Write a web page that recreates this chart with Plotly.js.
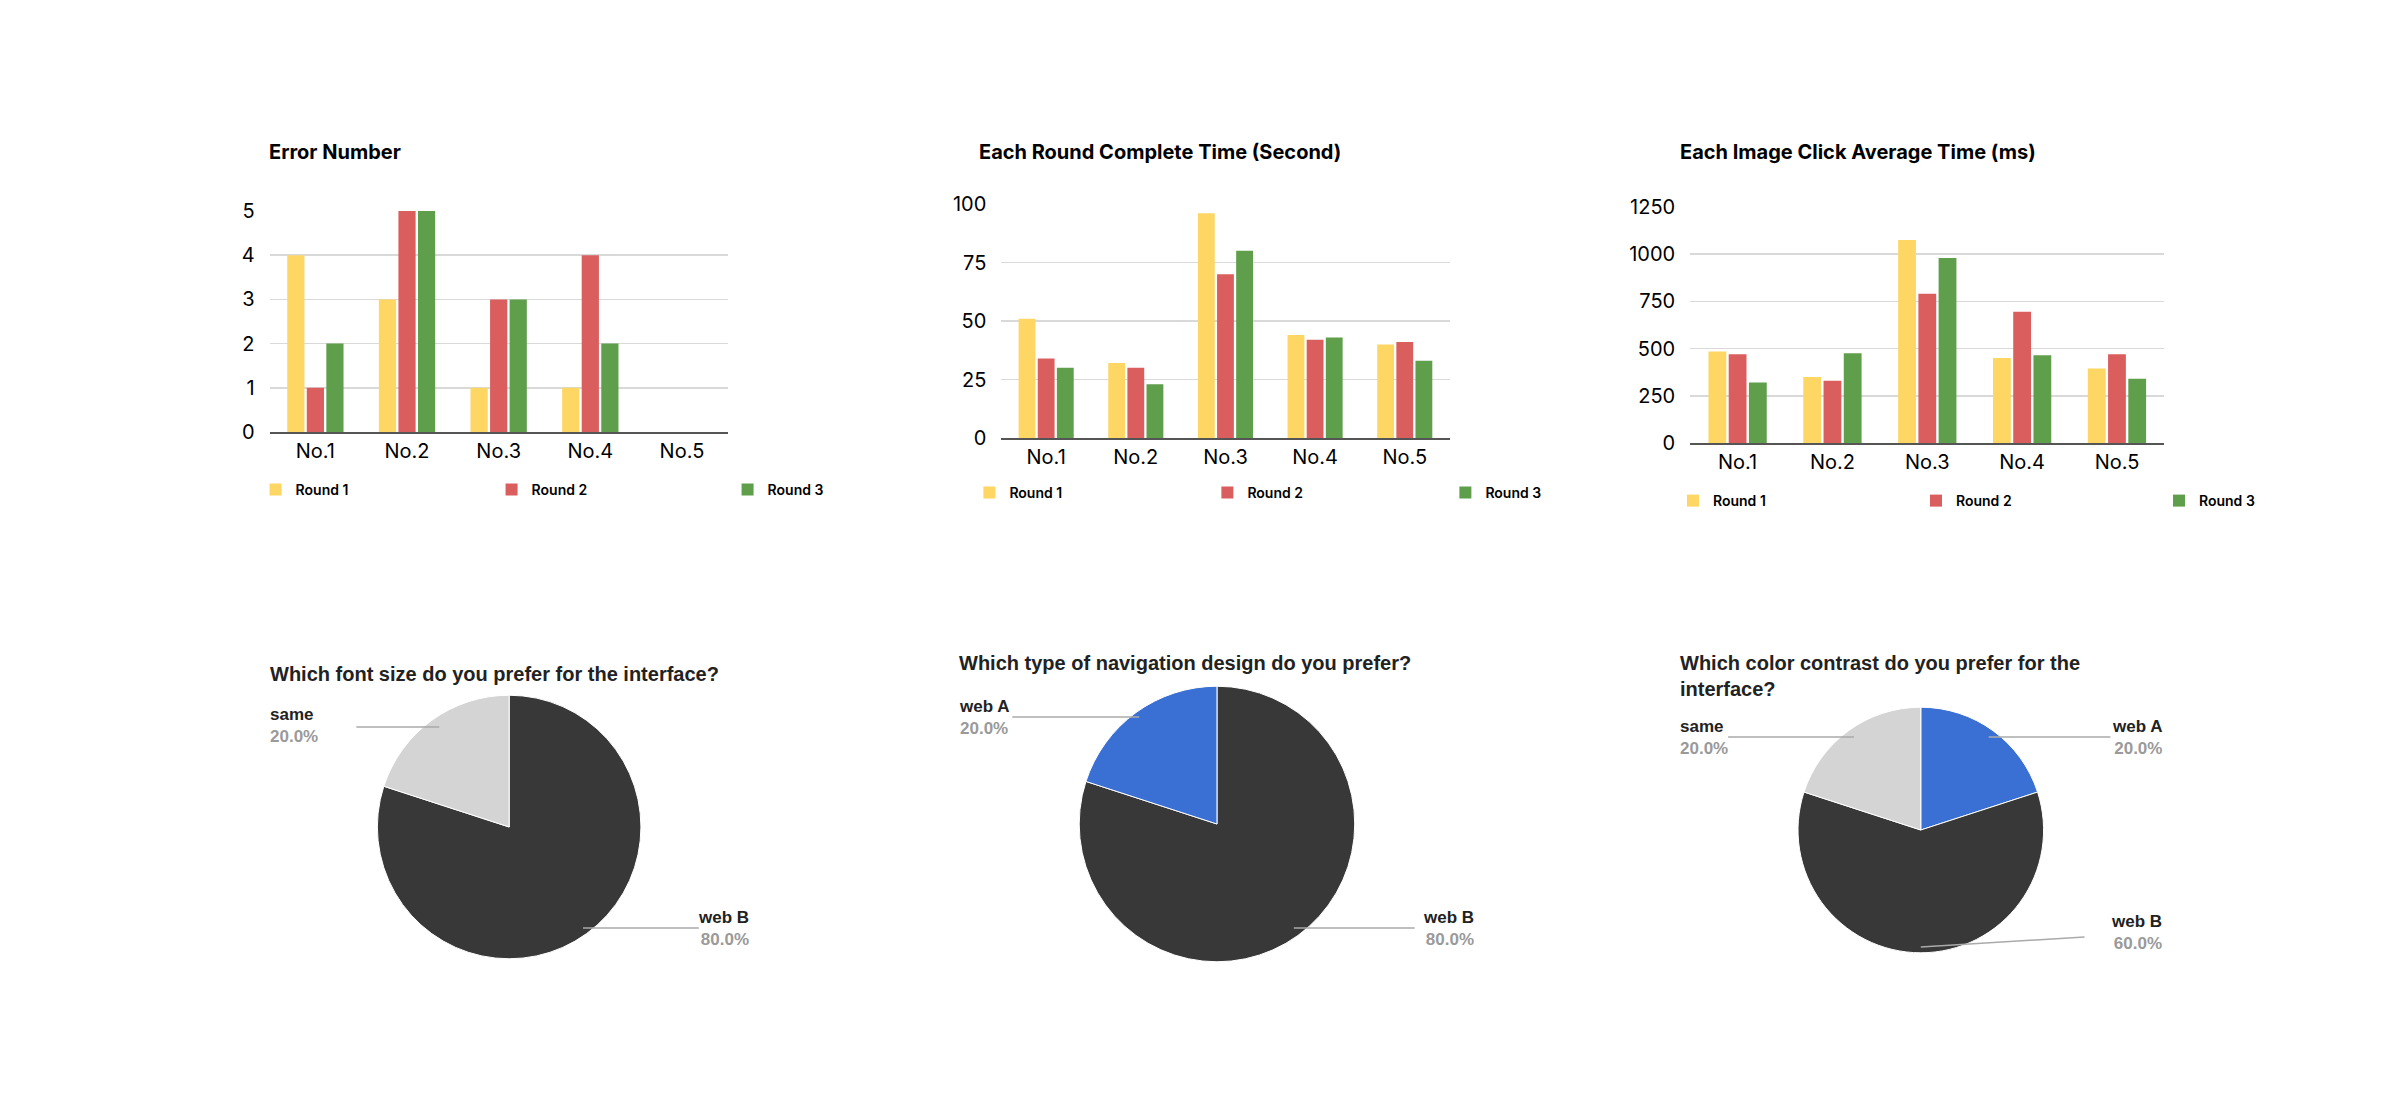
<!DOCTYPE html>
<html><head><meta charset="utf-8">
<script src="https://cdn.plot.ly/plotly-3.0.1.min.js"></script>
<style>body{margin:0;background:#fff}</style></head>
<body><div id="c" style="width:2402px;height:1096px"></div>
<script>
const categories = ["No.1","No.2","No.3","No.4","No.5"];
const rounds = ["Round 1","Round 2","Round 3"];
const errR1 = [4,3,1,1,0], errR2 = [1,5,3,4,0], errR3 = [2,5,3,2,0];
const timeR1 = [51,32,96,44,40], timeR2 = [34,30,70,42,41], timeR3 = [30,23,80,43,33];
const clickR1 = [485,350,1075,450,395], clickR2 = [470,330,790,695,470], clickR3 = [320,475,980,465,340];
const pie1Labels = ["web B","same"], pie1Values = [80,20];
const pie2Labels = ["web B","web A"], pie2Values = [80,20];
const pie3Labels = ["web A","web B","same"], pie3Values = [20,60,20];
const barTitles = ["Error Number","Each Round Complete Time (Second)","Each Image Click Average Time (ms)"];
const pieTitles = ["Which font size do you prefer for the interface?","Which type of navigation design do you prefer?","Which color contrast do you prefer for the<br>interface?"];

const W=2402,H=1096;
const px=x=>x/W, py=y=>1-y/H;
const COLORS={"Round 1":"#FDD663","Round 2":"#DA5E5E","Round 3":"#5F9E4B"};
const PIECOL={"web B":"#383838","same":"#D4D4D4","web A":"#3A6FD3"};
const FONT="Inter, 'Noto Sans', sans-serif";

const barSets=[[errR1,errR2,errR3],[timeR1,timeR2,timeR3],[clickR1,clickR2,clickR3]];
const geo=[
 {x0:270,x1:729,yt:211,yb:432,max:5,dt:1,leg:[264,490],ew:191,tx:267},
 {x0:1003,x1:1452,yt:204,yb:438,max:100,dt:25,leg:[979,493],ew:193,tx:979},
 {x0:1693,x1:2168,yt:207,yb:443,max:1250,dt:250,leg:[1684,501],ew:198,tx:1681}
];
const data=[], layout={width:W,height:H,margin:{l:0,r:0,t:0,b:0},paper_bgcolor:"#fff",plot_bgcolor:"#fff",
 font:{family:FONT,color:"#000"},barmode:"group",bargap:0.36,bargroupgap:0.12,annotations:[],shapes:[],showlegend:true};
geo.forEach((g,i)=>{
 const s=i?String(i+1):"";
 const lg=i?"legend"+(i+1):"legend";
 barSets[i].forEach((vals,k)=>{
  data.push({type:"bar",x:categories,y:vals,name:rounds[k],marker:{color:COLORS[rounds[k]]},
   xaxis:"x"+s,yaxis:"y"+s,legend:lg,hoverinfo:"y"});
 });
 layout["xaxis"+s]={domain:[px(g.x0),px(g.x1)],anchor:"y"+s,tickfont:{size:20,family:FONT},showline:true,linecolor:"#555",linewidth:2,ticks:"",fixedrange:true};
 layout["yaxis"+s]={domain:[py(g.yb),py(g.yt)],anchor:"x"+s,range:[0,g.max],dtick:g.dt,tickfont:{size:20,family:FONT},gridcolor:"#d9d9d9",gridwidth:1.5,zeroline:false,ticklabelstandoff:14};
 layout[lg]={orientation:"h",x:px(g.leg[0]-8),y:py(g.leg[1]),xanchor:"left",yanchor:"middle",entrywidth:g.ew,entrywidthmode:"pixels",
  font:{size:14,family:FONT,weight:600},itemwidth:30,bgcolor:"rgba(0,0,0,0)"};
 layout.annotations.push({text:"<b>"+barTitles[i]+"</b>",xref:"paper",yref:"paper",x:px(g.tx),y:py(152),xanchor:"left",yanchor:"middle",showarrow:false,font:{size:20,family:FONT}});
});
const pies=[[pie1Labels,pie1Values,510,827,132],[pie2Labels,pie2Values,1219,824,138],[pie3Labels,pie3Values,1924,830,123]];
pies.forEach(([lab,val,cx,cy,r])=>{
 data.push({type:"pie",labels:lab,values:val,sort:false,direction:"clockwise",rotation:0,textinfo:"none",showlegend:false,
  marker:{colors:lab.map(l=>PIECOL[l]),line:{color:"#fff",width:1}},domain:{x:[px(cx-r),px(cx+r)],y:[py(cy+r),py(cy-r)]}});
});
const pieT=[[268,674],[959,663],[1681,676]];
pieTitles.forEach((t,i)=>layout.annotations.push({text:"<b>"+t+"</b>",xref:"paper",yref:"paper",x:px(pieT[i][0]),y:py(pieT[i][1]),xanchor:"left",yanchor:"middle",align:"left",showarrow:false,font:{size:20,family:"Liberation Sans, Arial",color:"#222"}}));
const labs=[
 ["same","20.0%",268,725,"left",[357,727,440,727]],
 ["web B","80.0%",752,928,"right",[584,928,700,928]],
 ["web A","20.0%",959,717,"left",[1014,717,1141,717]],
 ["web B","80.0%",1478,928,"right",[1296,928,1417,928]],
 ["same","20.0%",1681,737,"left",[1731,737,1857,737]],
 ["web A","20.0%",2168,737,"right",[1992,737,2114,737]],
 ["web B","60.0%",2168,932,"right",[1924,947,2088,937]]
];
labs.forEach(([n,p,x,y,al,ln])=>{
 layout.annotations.push({text:"<b>"+n+"</b><br><b><span style='color:#9a9a9a'>"+p+"</span></b>",xref:"paper",yref:"paper",x:px(x),y:py(y),xanchor:al,yanchor:"middle",align:al,showarrow:false,font:{size:17,family:"Liberation Sans, Arial",color:"#222"}});
 layout.shapes.push({type:"line",xref:"paper",yref:"paper",x0:px(ln[0]),y0:py(ln[1]),x1:px(ln[2]),y1:py(ln[3]),line:{color:"#aaa",width:1.5}});
});
Plotly.newPlot("c",data,layout,{displayModeBar:false,staticPlot:true});
</script></body></html>
